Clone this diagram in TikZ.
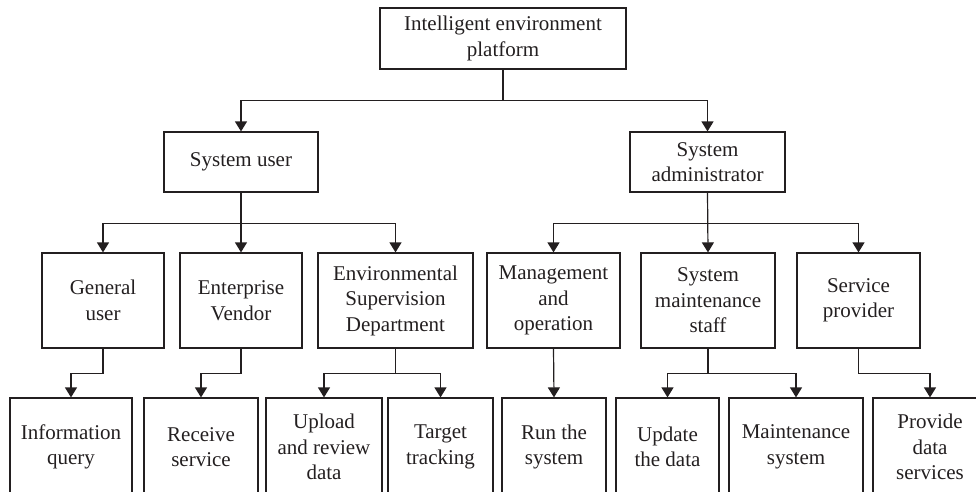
\documentclass[tikz,border=0pt]{standalone}
\usepackage{fontspec}
\setmainfont{Liberation Serif}
\usetikzlibrary{arrows.meta}
\definecolor{ink}{HTML}{231F20}
\begin{document}
\begin{tikzpicture}[x=1pt,y=-1pt,
  box/.style={draw=ink,line width=1.2pt,align=center,inner sep=0pt,
    text=ink,font=\fontsize{21}{25.5}\selectfont},
  arr/.style={draw=ink,line width=1.2pt,-{Triangle[width=12pt,length=10pt]}}]
\useasboundingbox (0,0) rectangle (976,492);
\begin{scope}
\clip (0,0) rectangle (976,491);
% level 0
\node[box,minimum width=246pt,minimum height=61pt] (top) at (503,38.5) {Intelligent environment\\platform};
% level 1
\node[box,minimum width=154pt,minimum height=60pt] (su) at (241,162) {System user};
\node[box,minimum width=155pt,minimum height=60pt] (sa) at (707.5,162) {System\\administrator};
% level 2
\node[box,minimum width=122pt,minimum height=95pt] (gu) at (103,300.5) {General\\user};
\node[box,minimum width=122pt,minimum height=95pt] (ev) at (241,300.5) {Enterprise\\Vendor};
\node[box,minimum width=155pt,minimum height=95pt] (esd) at (395.5,300.5) {Environmental\\Supervision\\Department};
\node[box,minimum width=133pt,minimum height=95pt] (mo) at (553.5,300.5) {Management\\and\\operation};
\node[box,minimum width=134pt,minimum height=95pt] (sms) at (708,300.5) {System\\maintenance\\staff};
\node[box,minimum width=123pt,minimum height=95pt] (sp) at (858.5,300.5) {Service\\provider};
% level 3
\node[box,minimum width=122pt,minimum height=98pt] (iq) at (71,447) {Information\\query};
\node[box,minimum width=114pt,minimum height=98pt] (rs) at (201,447) {Receive\\service};
\node[box,minimum width=116pt,minimum height=98pt] (ur) at (324,447) {Upload\\and review\\data};
\node[box,minimum width=105pt,minimum height=98pt] (tt) at (440.5,447) {Target\\tracking};
\node[box,minimum width=104pt,minimum height=98pt] (rt) at (554,447) {Run the\\system};
\node[box,minimum width=103pt,minimum height=98pt] (ud) at (667.5,447) {Update\\the data};
\node[box,minimum width=134pt,minimum height=98pt] (ms) at (796,447) {Maintenance\\system};
\node[box,minimum width=114pt,minimum height=98pt] (pd) at (930,447) {Provide\\data\\services};
% connectors
\draw[arr] (top.south) -- ++(0,31) -| (su.north);
\draw[arr] (top.south) -- ++(0,31) -| (sa.north);
\draw[arr] (su.south) -- ++(0,31) -| (gu.north);
\draw[arr] (su.south) -- (ev.north);
\draw[arr] (su.south) -- ++(0,31) -| (esd.north);
\draw[arr] (sa.south) -- ++(0,31) -| (mo.north);
\draw[arr] (sa.south) -- (sms.north);
\draw[arr] (sa.south) -- ++(0,31) -| (sp.north);
\draw[arr] (gu.south) -- ++(0,25) -| (iq.north);
\draw[arr] (ev.south) -- ++(0,25) -| (rs.north);
\draw[arr] (esd.south) -- ++(0,25) -| (ur.north);
\draw[arr] (esd.south) -- ++(0,25) -| (tt.north);
\draw[arr] (mo.south) -- (rt.north);
\draw[arr] (sms.south) -- ++(0,25) -| (ud.north);
\draw[arr] (sms.south) -- ++(0,25) -| (ms.north);
\draw[arr] (sp.south) -- ++(0,25) -| (pd.north);
\end{scope}
\end{tikzpicture}
\end{document}
